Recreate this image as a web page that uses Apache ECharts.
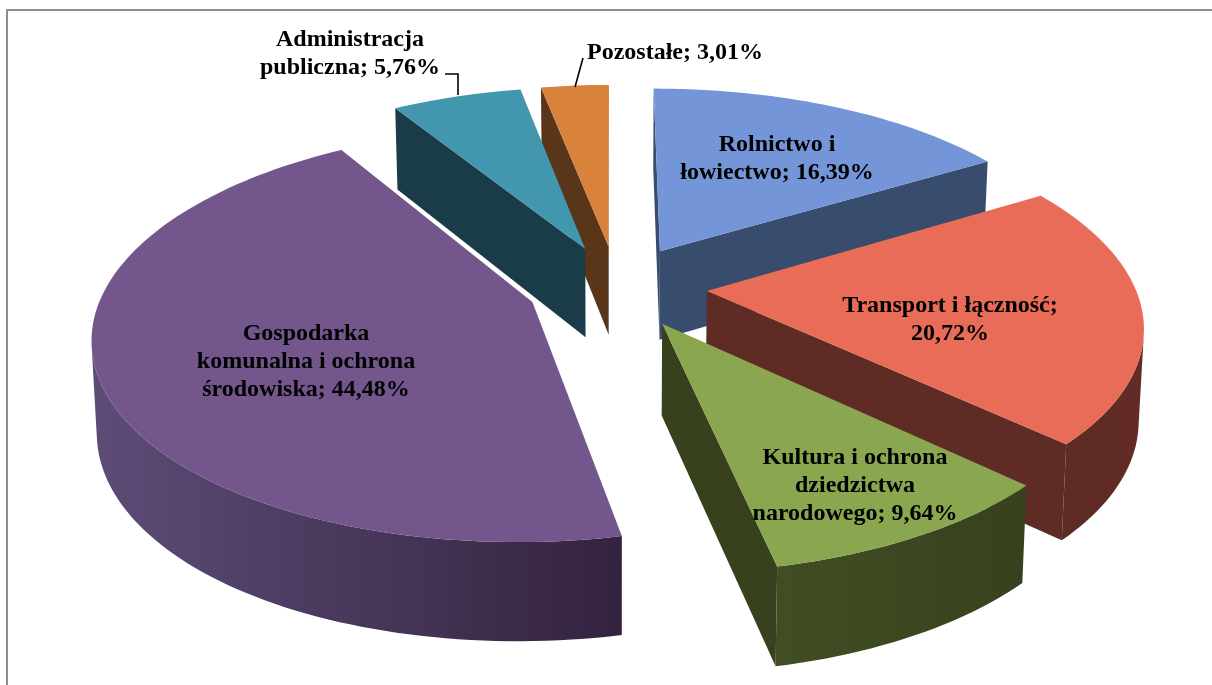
<!DOCTYPE html>
<html>
<head>
<meta charset="utf-8">
<style>
  html, body { margin: 0; padding: 0; background: #fff; }
  #chart { width: 1212px; height: 685px; }
</style>
<script src="https://cdn.jsdelivr.net/npm/echarts@6/dist/echarts.min.js"></script>
</head>
<body>
<div id="chart"></div>
<script>
// dane
var categories = ['Rolnictwo i\nłowiectwo', 'Transport i łączność;\n', 'Kultura i ochrona\ndziedzictwa\nnarodowego', 'Gospodarka\nkomunalna i ochrona\nśrodowiska', 'Administracja\npubliczna', 'Pozostałe'];
var percents = [16.39, 20.72, 9.64, 44.48, 5.76, 3.01];
var valueTexts = ['16,39%', '20,72%', '9,64%', '44,48%', '5,76%', '3,01%'];

// kolory
var topColors = ['#7496d8', '#e86c57', '#8aa64f', '#73578c', '#4296ae', '#d9823c'];
var sideColors = ['#384c6e', '#5e2b25', '#37411d', '#3c2b4d', '#1a3c49', '#59361a'];
var rimColors = [
  ['#384c6e', '#384c6e'],
  ['#5e2b25', '#632b25'],
  ['#414e24', '#37411d'],
  ['#5d4c76', '#33233f'],
  ['#1a3c49', '#1a3c49'],
  ['#59361a', '#59361a']
];

// kolejność rysowania: od tyłu do przodu
var drawOrder = [0, 5, 4, 3, 1, 2];

// układ
var CX = 617, CY = 286.5;   // środek rzutu
var RADIUS = 428;           // promień
var EXPLODE = 90;           // odsunięcie wycinków
var TILT = 0.462;           // spłaszczenie
var PERSP = 0.00036;        // perspektywa
var DEPTH = 90;             // wysokość walca
var ROTATE = -0.002;        // obrót całości (rad)
var labelPos = [[777, 159], [950, 320], [855, 486], [306, 362], [350, 54], [675, 53]];
var leaders = [null, null, null, null, [[445, 74], [458, 74], [458, 95]], [[583, 58], [575, 87]]];

function project(x, y, z) {
  var w = 1 + PERSP * y;
  var d = z ? DEPTH * (1 - y * 0.00022) : 0;
  var k = z ? 0.99 : 1;
  return [CX + k * x / w, CY - TILT * y / w + d];
}

function sliceGeom(i) {
  var sum = 0;
  for (var k = 0; k < i; k++) sum += percents[k];
  var a0 = sum / 100 * Math.PI * 2 + ROTATE;
  var a1 = (sum + percents[i]) / 100 * Math.PI * 2 + ROTATE;
  var mid = (a0 + a1) / 2;
  return { a0: a0, a1: a1, ax: EXPLODE * Math.sin(mid), ay: EXPLODE * Math.cos(mid) };
}

function signedArea(p) {
  var s = 0;
  for (var i = 0; i < p.length; i++) {
    var q = p[(i + 1) % p.length];
    s += p[i][0] * q[1] - q[0] * p[i][1];
  }
  return s / 2;
}

function renderSlice(params, api) {
  var i = api.value(0);
  var g = sliceGeom(i);
  var children = [];
  var steps = Math.max(8, Math.round((g.a1 - g.a0) * 40));
  var rimT = [], rimB = [];
  for (var s = 0; s <= steps; s++) {
    var a = g.a0 + (g.a1 - g.a0) * s / steps;
    var x = g.ax + RADIUS * Math.sin(a);
    var y = g.ay + RADIUS * Math.cos(a);
    rimT.push(project(x, y, 0));
    rimB.push(project(x, y, 1));
  }
  var apexT = project(g.ax, g.ay, 0);
  var apexB = project(g.ax, g.ay, 1);

  // ściany radialne - tylko te zwrócone do widza
  [[rimT[0], apexT, apexB, rimB[0]], [apexT, rimT[steps], rimB[steps], apexB]].forEach(function (pts) {
    if (signedArea(pts) > 0) {
      children.push({ type: 'polygon', shape: { points: pts }, style: { fill: sideColors[i] } });
    }
  });

  // ściana zewnętrzna - widoczny fragment łuku
  var from = -1, to = -1;
  for (var t = 0; t < steps; t++) {
    if (signedArea([rimT[t], rimT[t + 1], rimB[t + 1], rimB[t]]) < 0) {
      if (from < 0) from = t;
      to = t + 1;
    }
  }
  if (from >= 0) {
    var top = rimT.slice(from, to + 1);
    var bot = rimB.slice(from, to + 1).reverse();
    var xs = top.map(function (p) { return p[0]; });
    var minX = Math.min.apply(null, xs), maxX = Math.max.apply(null, xs);
    children.push({
      type: 'polygon',
      shape: { points: top.concat(bot) },
      style: {
        fill: new echarts.graphic.LinearGradient(minX, 0, maxX, 0, [
          { offset: 0, color: rimColors[i][0] },
          { offset: 1, color: rimColors[i][1] }
        ], true)
      }
    });
  }

  // wierzch
  children.push({
    type: 'polygon',
    shape: { points: [apexT].concat(rimT) },
    style: { fill: topColors[i] }
  });
  return { type: 'group', children: children };
}

function renderLabel(params, api) {
  var i = api.value(0);
  var children = [];
  if (leaders[i]) {
    children.push({
      type: 'polyline',
      shape: { points: leaders[i] },
      style: { fill: 'none', stroke: '#000', lineWidth: 1.6 }
    });
  }
  var sep = categories[i].slice(-1) === '\n' ? '' : '; ';
  children.push({
    type: 'text',
    x: labelPos[i][0],
    y: labelPos[i][1],
    style: {
      text: categories[i] + sep + valueTexts[i],
      fill: '#000',
      font: 'bold 24px "Liberation Serif"',
      lineHeight: 28,
      align: 'center',
      verticalAlign: 'middle'
    }
  });
  return { type: 'group', children: children };
}

var chart = echarts.init(document.getElementById('chart'));
chart.setOption({
  animation: false,
  backgroundColor: '#fff',
  graphic: [{
    type: 'polyline',
    shape: { points: [[7, 685], [7, 10], [1212, 10]] },
    style: { fill: 'none', stroke: '#8e8e8e', lineWidth: 2 },
    silent: true
  }],
  series: [{
    type: 'custom',
    coordinateSystem: 'none',
    renderItem: renderSlice,
    silent: true,
    data: drawOrder.map(function (i) { return [i, percents[i]]; })
  }, {
    type: 'custom',
    coordinateSystem: 'none',
    renderItem: renderLabel,
    silent: true,
    z: 5,
    data: percents.map(function (p, i) { return [i, p]; })
  }]
});
</script>
</body>
</html>
